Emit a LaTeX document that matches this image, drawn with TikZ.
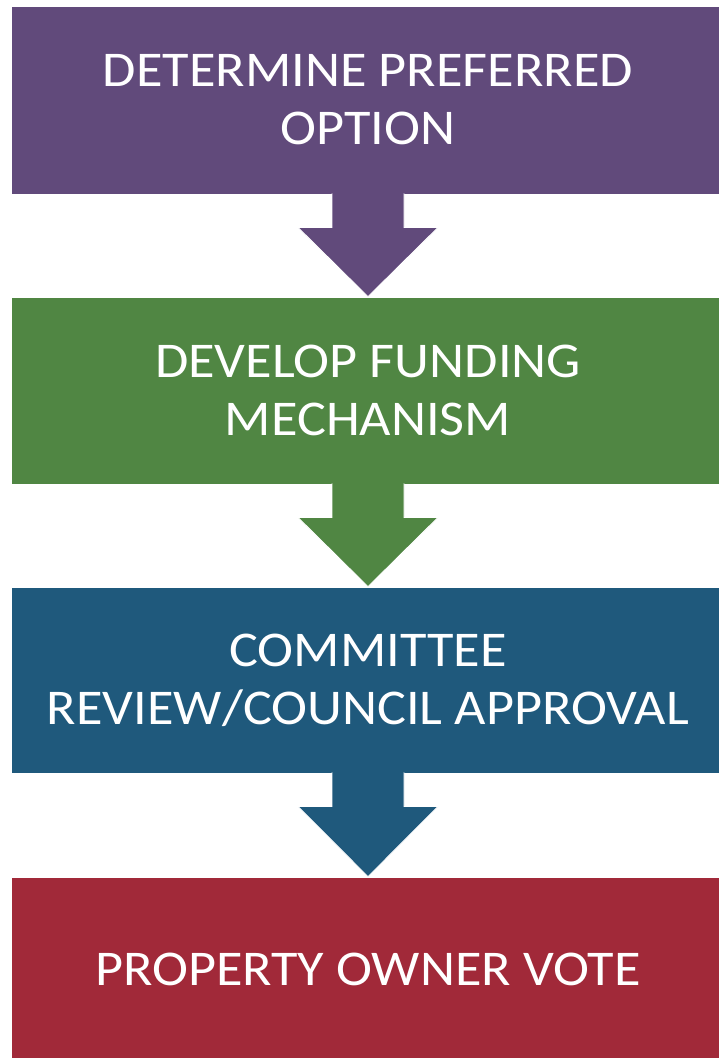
\documentclass[tikz,border=0pt]{standalone}
\usepackage{fontspec}
\setmainfont{Carlito}[FakeStretch=1.085]
\usetikzlibrary{calc}
\definecolor{cpurple}{HTML}{614A7B}
\definecolor{cgreen}{HTML}{508643}
\definecolor{cblue}{HTML}{1F597C}
\definecolor{cred}{HTML}{A12939}
\begin{document}
\begin{tikzpicture}[x=1pt,y=-1pt,
  stepbox/.style={rectangle, draw=white, line width=0.8pt, minimum width=714pt, inner sep=0pt,
    text=white, align=center, font=\fontsize{50}{58}\selectfont},
  blockarrow/.style={draw=white, line width=0.8pt, line join=miter}]
\useasboundingbox[fill=white] (0,0) rectangle (719,1058);
\begin{scope}
\clip (0,0) rectangle (719,1058);
\node[stepbox, fill=cpurple, minimum height=188pt] (b1) at (368,100) {DETERMINE PREFERRED\\OPTION};
\node[stepbox, fill=cgreen, minimum height=187pt] (b2) at (368,390.5) {DEVELOP FUNDING\\MECHANISM};
\node[stepbox, fill=cblue, minimum height=186pt] (b3) at (368,680) {COMMITTEE\\REVIEW/COUNCIL APPROVAL};
\node[stepbox, fill=cred, minimum height=184pt] (b4) at (368,969) {PROPERTY OWNER VOTE};
\foreach \a/\b/\c in {b1/b2/cpurple, b2/b3/cgreen, b3/b4/cblue}{
  \draw[blockarrow, fill=\c] ($(\a.south)+(-36,-1)$) -- ($(\a.south)+(-36,33)$) -- ($(\a.south)+(-70,33)$)
    -- (\b.north) -- ($(\a.south)+(70,33)$) -- ($(\a.south)+(36,33)$) -- ($(\a.south)+(36,-1)$);
}
\end{scope}
\end{tikzpicture}
\end{document}
